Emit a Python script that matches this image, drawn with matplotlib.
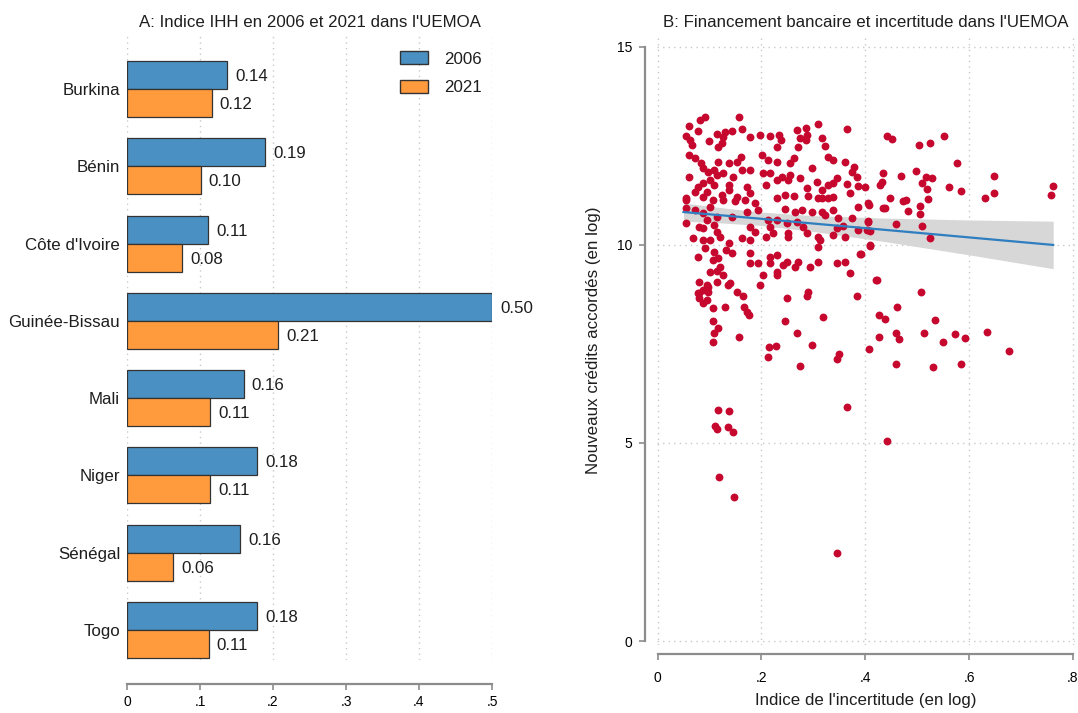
import numpy as np
import matplotlib
matplotlib.use("Agg")
import matplotlib.pyplot as plt
from matplotlib.patches import Patch

plt.rcParams['font.family'] = ['Liberation Sans', 'DejaVu Sans']

# ---------------- Panel A data ----------------
pays = ["Burkina", "Bénin", "Côte d'Ivoire", "Guinée-Bissau", "Mali", "Niger", "Sénégal", "Togo"]
ihh_2006 = [0.137, 0.189, 0.111, 0.500, 0.160, 0.178, 0.155, 0.178]
ihh_2021 = [0.116, 0.101, 0.076, 0.207, 0.114, 0.114, 0.063, 0.112]
labels_2006 = ["0.14", "0.19", "0.11", "0.50", "0.16", "0.18", "0.16", "0.18"]
labels_2021 = ["0.12", "0.10", "0.08", "0.21", "0.11", "0.11", "0.06", "0.11"]
xticks_a = [0, 0.1, 0.2, 0.3, 0.4, 0.5]
xticklabels_a = ["0", ".1", ".2", ".3", ".4", ".5"]

# ---------------- Panel B data ----------------
incert = [
    0.092, 0.081, 0.156, 0.060, 0.077, 0.054, 0.063, 0.067, 0.100, 0.115, 0.129, 0.127, 0.144, 0.163, 0.125, 0.117,
    0.179, 0.198, 0.217, 0.060, 0.073, 0.083, 0.088, 0.117, 0.137, 0.160, 0.154, 0.202, 0.212, 0.098, 0.108, 0.115,
    0.127, 0.146, 0.163, 0.179, 0.060, 0.102, 0.088, 0.108, 0.077, 0.137, 0.137, 0.096, 0.073, 0.173, 0.179, 0.208,
    0.217, 0.204, 0.125, 0.054, 0.087, 0.154, 0.231,
    0.310, 0.365, 0.269, 0.285, 0.275, 0.288, 0.285, 0.317, 0.323, 0.271, 0.233, 0.237, 0.231, 0.231, 0.262, 0.256,
    0.329, 0.338, 0.298, 0.362, 0.379, 0.375, 0.385, 0.240, 0.256, 0.252, 0.275, 0.308, 0.346, 0.338, 0.329, 0.365,
    0.387, 0.400, 0.429, 0.288, 0.317, 0.371, 0.246, 0.262, 0.290, 0.317, 0.338,
    0.054, 0.054, 0.073, 0.088, 0.102, 0.106, 0.127, 0.150, 0.169, 0.188, 0.194, 0.144, 0.115, 0.096, 0.054, 0.079,
    0.088, 0.108, 0.115, 0.121, 0.069, 0.087, 0.102, 0.092, 0.108, 0.131, 0.137, 0.163, 0.179, 0.188, 0.179, 0.173,
    0.212, 0.217, 0.223, 0.208, 0.077, 0.106, 0.117, 0.144, 0.179, 0.179, 0.194, 0.217, 0.217, 0.121, 0.102, 0.115,
    0.127, 0.204, 0.231, 0.079, 0.096, 0.115, 0.140, 0.198,
    0.231, 0.246, 0.265, 0.279, 0.298, 0.317, 0.323, 0.338, 0.348, 0.375, 0.387, 0.406, 0.435, 0.310, 0.329, 0.231,
    0.250, 0.269, 0.281, 0.252, 0.252, 0.288, 0.310, 0.313, 0.337, 0.346, 0.358, 0.362, 0.387, 0.406, 0.410, 0.410,
    0.310, 0.390, 0.231, 0.250, 0.242, 0.271, 0.265, 0.294, 0.310, 0.346, 0.362, 0.371, 0.231, 0.423,
    0.079, 0.088, 0.098, 0.098, 0.079, 0.096, 0.088, 0.135, 0.154, 0.165, 0.106, 0.129, 0.167, 0.173, 0.177, 0.106,
    0.117, 0.108, 0.156, 0.106, 0.215, 0.229, 0.212, 0.077,
    0.250, 0.290, 0.287, 0.385, 0.508, 0.246, 0.319, 0.269, 0.298, 0.275, 0.350, 0.346, 0.408, 0.427, 0.438, 0.462,
    0.427, 0.460, 0.465, 0.460, 0.535, 0.513, 0.550, 0.573, 0.592, 0.531, 0.585, 0.635, 0.677, 0.365, 0.442, 0.117,
    0.137, 0.110, 0.115, 0.135, 0.146, 0.119, 0.148, 0.346,
    0.442, 0.452, 0.504, 0.525, 0.552, 0.577, 0.498, 0.469, 0.517, 0.529, 0.435, 0.433, 0.510, 0.519, 0.562, 0.585,
    0.648, 0.648, 0.631, 0.762, 0.758, 0.448, 0.473, 0.479, 0.521, 0.506, 0.506, 0.438, 0.483, 0.408, 0.406, 0.404,
    0.460, 0.510, 0.525, 0.410, 0.392, 0.421,
]
credits = [
    13.23, 13.16, 13.23, 13.00, 12.88, 12.75, 12.65, 12.53, 12.63, 12.80, 12.85, 12.73, 12.88, 12.93, 12.58, 12.47,
    12.73, 12.78, 12.75, 12.27, 12.20, 12.07, 11.95, 12.10, 12.07, 12.22, 12.10, 12.27, 12.15, 11.84, 11.90, 11.77,
    11.82, 11.72, 11.90, 11.90, 11.72, 11.64, 11.57, 11.52, 11.47, 11.52, 11.39, 11.34, 11.34, 11.47, 11.31, 11.52,
    11.82, 11.82, 11.26, 11.19, 11.21, 11.21, 11.64,
    13.06, 12.93, 12.90, 12.95, 12.70, 12.78, 12.65, 12.70, 12.50, 12.47, 12.78, 12.65, 12.47, 12.10, 12.20, 12.07,
    12.22, 12.15, 11.95, 12.10, 11.97, 11.84, 11.72, 11.72, 11.77, 11.64, 11.69, 11.59, 11.69, 11.57, 11.52, 11.54,
    11.49, 11.47, 11.52, 11.44, 11.39, 11.31, 11.26, 11.24, 11.24, 11.19, 11.21,
    11.14, 10.93, 10.88, 10.80, 10.96, 11.14, 11.14, 11.11, 11.14, 11.06, 10.88, 10.71, 10.71, 10.63, 10.56, 10.45,
    10.43, 10.50, 10.33, 10.20, 10.18, 10.13, 10.13, 9.92, 9.82, 9.87, 10.05, 10.18, 10.13, 10.33, 10.45, 10.83,
    10.63, 10.45, 10.30, 10.20, 9.70, 9.62, 9.67, 9.80, 9.80, 9.55, 9.55, 9.70, 9.55, 9.44, 9.32, 9.34,
    9.24, 9.24, 9.24, 9.07, 8.99, 9.07, 9.04, 8.99,
    11.19, 10.91, 10.83, 10.88, 10.83, 10.83, 10.76, 10.88, 10.68, 10.68, 10.96, 11.06, 10.93, 11.19, 11.19, 10.63,
    10.56, 10.58, 10.45, 10.30, 10.20, 10.30, 10.20, 10.13, 10.25, 10.43, 10.48, 10.20, 10.38, 10.58, 10.35, 10.00,
    9.95, 9.77, 9.75, 9.57, 9.49, 9.57, 9.44, 9.44, 9.57, 9.55, 9.57, 9.29, 9.32, 9.12,
    8.79, 8.86, 8.94, 8.81, 8.66, 8.61, 8.54, 8.99, 8.81, 8.71, 8.41, 8.43, 8.43, 8.31, 8.23, 8.08,
    7.90, 7.78, 7.68, 7.55, 7.42, 7.45, 7.17, 8.79,
    8.66, 8.81, 8.71, 8.71, 8.81, 8.08, 8.18, 7.78, 7.47, 6.94, 7.25, 7.12, 7.37, 8.23, 8.13, 8.43,
    7.68, 7.78, 7.63, 6.99, 8.11, 7.78, 7.55, 7.75, 7.65, 6.92, 6.99, 7.80, 7.32, 5.91, 5.05, 5.83,
    5.81, 5.43, 5.35, 5.40, 5.28, 4.14, 3.64, 2.22,
    12.75, 12.68, 12.53, 12.58, 12.75, 12.07, 11.87, 11.74, 11.72, 11.69, 11.82, 11.59, 11.57, 11.41, 11.47, 11.36,
    11.74, 11.31, 11.19, 11.49, 11.26, 11.19, 11.11, 11.14, 11.16, 10.98, 10.78, 10.93, 10.86, 11.01, 10.60, 10.38,
    10.53, 10.48, 10.18, 9.97, 9.77, 9.12,
]
# Linear fit and 95% confidence band
fit_x = [0.050, 0.130, 0.200, 0.300, 0.430, 0.600, 0.762]
fit_y = [10.83, 10.74, 10.66, 10.54, 10.39, 10.19, 10.00]
fit_hi = [11.06, 10.93, 10.83, 10.74, 10.68, 10.63, 10.60]
fit_lo = [10.60, 10.55, 10.49, 10.34, 10.10, 9.75, 9.40]

xticks_b = [0, 0.2, 0.4, 0.6, 0.8]
xticklabels_b = ["0", ".2", ".4", ".6", ".8"]
yticks_b = [0, 5, 10, 15]

C_BLUE = "#4A90C2"
C_ORANGE = "#FF9A3D"
C_RED = "#C6082F"
C_LINE = "#2F7EC0"
C_BAND = "#D7D7D7"
C_AXIS = "#8C8C8C"
C_GRID = "#C8C8C8"
C_TXT = "#1E1E1E"
FS = 12.2

fig = plt.figure(figsize=(10.78, 7.13), dpi=100)
W, H = 1078, 713
PT = 72.0 / 100.0  # points per pixel

def px_axes(l, t, r, b):
    return fig.add_axes([l / W, 1 - b / H, (r - l) / W, (b - t) / H])

# ---------------- Panel A ----------------
axA = px_axes(127, 35, 492, 660)
pos = np.arange(len(pays))
bh = 0.362
bars1 = axA.barh(pos - bh / 2, ihh_2006, height=bh, color=C_BLUE, edgecolor="#333333", linewidth=0.9, zorder=3)
bars2 = axA.barh(pos + bh / 2, ihh_2021, height=bh, color=C_ORANGE, edgecolor="#333333", linewidth=0.9, zorder=3)
for bars, labs in ((bars1, labels_2006), (bars2, labels_2021)):
    for b, lab in zip(bars, labs):
        axA.text(b.get_width() + 0.011, b.get_y() + b.get_height() / 2 + 0.02, lab, va="center", ha="left",
                 fontsize=FS, clip_on=False, color=C_TXT)
axA.set_xlim(0, 0.5)
axA.set_ylim(7.39, -0.7)
axA.set_yticks(pos)
axA.set_yticklabels(pays, fontsize=FS, color=C_TXT)
axA.tick_params(axis="y", length=0, pad=5)
axA.set_xticks(xticks_a)
axA.set_xticklabels(xticklabels_a, fontsize=FS, color=C_TXT)
axA.tick_params(axis="x", length=6 * PT, color=C_AXIS, width=1.2, pad=5 * PT)
for s in ["top", "right", "left"]:
    axA.spines[s].set_visible(False)
axA.spines["bottom"].set_position(("outward", 24 * PT))
axA.spines["bottom"].set_color(C_AXIS)
axA.spines["bottom"].set_linewidth(1.6)
axA.spines["bottom"].set_bounds(0, 0.5)
axA.grid(axis="x", linestyle=(0, (1, 3)), color=C_GRID, linewidth=1.0, zorder=0)
axA.set_axisbelow(True)
axA.set_title("A: Indice IHH en 2006 et 2021 dans l'UEMOA", fontsize=FS, color=C_TXT, pad=6)
leg = axA.legend(handles=[Patch(facecolor=C_BLUE, edgecolor="#333333", label="2006"),
                          Patch(facecolor=C_ORANGE, edgecolor="#333333", label="2021")],
                 loc="upper right", bbox_to_anchor=(1.015, 0.998), frameon=False, fontsize=FS,
                 handlelength=1.65, handleheight=0.8, labelspacing=0.75, handletextpad=1.0)
for t in leg.get_texts():
    t.set_color(C_TXT)

# ---------------- Panel B ----------------
axB = px_axes(657, 35, 1075, 645)
axB.fill_between(fit_x, fit_lo, fit_hi, color=C_BAND, linewidth=0, zorder=2)
axB.scatter(incert, credits, s=32, color=C_RED, linewidths=0, zorder=3)
axB.plot(fit_x, fit_y, color=C_LINE, linewidth=1.6, zorder=4)
axB.set_xlim(-0.001, 0.804)
axB.set_ylim(-0.1, 15.3)
axB.set_xticks(xticks_b)
axB.set_xticklabels(xticklabels_b, fontsize=FS, color=C_TXT)
axB.set_yticks(yticks_b)
axB.set_yticklabels([str(v) for v in yticks_b], fontsize=FS, color=C_TXT)
axB.tick_params(axis="x", length=6 * PT, color=C_AXIS, width=1.2, pad=11 * PT)
axB.tick_params(axis="y", length=6 * PT, color=C_AXIS, width=1.2, pad=7 * PT)
for sname in ["top", "right"]:
    axB.spines[sname].set_visible(False)
axB.spines["left"].set_position(("outward", 12 * PT))
axB.spines["bottom"].set_position(("outward", 9 * PT))
for sname in ["left", "bottom"]:
    axB.spines[sname].set_color(C_AXIS)
    axB.spines[sname].set_linewidth(1.6)
axB.spines["left"].set_bounds(0, 15)
axB.spines["bottom"].set_bounds(0, 0.8)
axB.grid(True, linestyle=(0, (1, 3)), color=C_GRID, linewidth=1.0, zorder=0)
axB.set_axisbelow(True)
axB.set_title("B: Financement bancaire et incertitude dans l'UEMOA", fontsize=FS, color=C_TXT, pad=6)
axB.set_xlabel("Indice de l'incertitude (en log)", fontsize=FS, color=C_TXT, labelpad=6)
axB.set_ylabel("Nouveaux crédits accordés (en log)", fontsize=FS, color=C_TXT, labelpad=11)

fig.savefig("out.png", dpi=100, facecolor="white")
